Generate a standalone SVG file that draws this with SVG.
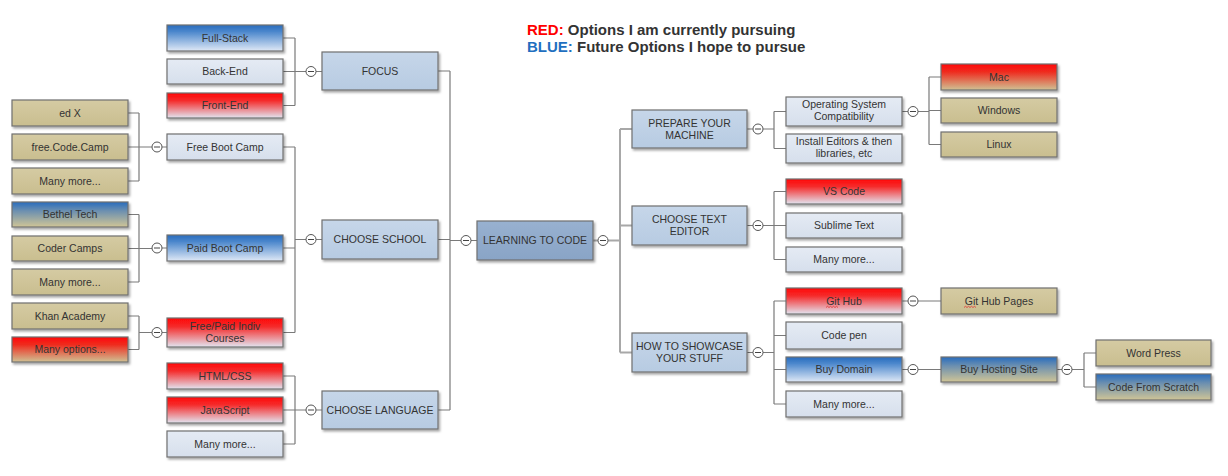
<svg xmlns="http://www.w3.org/2000/svg" width="1228" height="476" viewBox="0 0 1228 476">
<style>
.n rect{stroke:#707070;stroke-width:1.2;filter:url(#sh)}
.n text{font-family:"Liberation Sans",Arial,sans-serif;font-size:10.5px;fill:#333;text-anchor:middle}
.light rect{fill:url(#gLight)}
.l1 rect{fill:url(#gL1)}
.ctr rect{fill:url(#gCtr)}
.tan rect{fill:url(#gTan)}
.red rect{fill:url(#gRed)}
.redtan rect{fill:url(#gRedTan)}
.blue rect{fill:url(#gBlue)}
.bluetan rect{fill:url(#gBlueTan)}
#connectors path{fill:none;stroke:#7a7a7a;stroke-width:1.2}
#connectors path.trunk{stroke:#a8a8a8;stroke-width:2}
#connectors circle{fill:#fff;stroke:#555;stroke-width:1}
#connectors line{stroke:#444;stroke-width:1}
.legend{font-family:"Liberation Sans",Arial,sans-serif;font-size:15px;font-weight:bold;fill:#333}
.sq{fill:none;stroke:#e03030;stroke-width:0.8}
</style>
<defs>
<filter id="sh" x="-10%" y="-20%" width="130%" height="160%">
<feDropShadow dx="1.5" dy="2" stdDeviation="1.2" flood-color="#000" flood-opacity="0.35"/>
</filter>
<linearGradient id="gLight" x1="0" y1="0" x2="0" y2="1"><stop offset="0" stop-color="#e5ebf4"/><stop offset="1" stop-color="#d6dfec"/></linearGradient>
<linearGradient id="gL1" x1="0" y1="0" x2="0" y2="1"><stop offset="0" stop-color="#c6d6e9"/><stop offset="1" stop-color="#b7cbe2"/></linearGradient>
<linearGradient id="gCtr" x1="0" y1="0" x2="0" y2="1"><stop offset="0" stop-color="#98b1d0"/><stop offset="1" stop-color="#89a4c6"/></linearGradient>
<linearGradient id="gTan" x1="0" y1="0" x2="0" y2="1"><stop offset="0" stop-color="#d5cba3"/><stop offset="1" stop-color="#c9be8f"/></linearGradient>
<linearGradient id="gRed" x1="0" y1="0" x2="0" y2="1"><stop offset="0" stop-color="#ff0808"/><stop offset="0.3" stop-color="#f52a2a"/><stop offset="1" stop-color="#e2e5f1"/></linearGradient>
<linearGradient id="gRedTan" x1="0" y1="0" x2="0" y2="1"><stop offset="0" stop-color="#ff0808"/><stop offset="0.3" stop-color="#ef2a1e"/><stop offset="1" stop-color="#cfc294"/></linearGradient>
<linearGradient id="gBlue" x1="0" y1="0" x2="0" y2="1"><stop offset="0" stop-color="#286cbd"/><stop offset="0.25" stop-color="#4a86cc"/><stop offset="1" stop-color="#e0e9f6"/></linearGradient>
<linearGradient id="gBlueTan" x1="0" y1="0" x2="0" y2="1"><stop offset="0" stop-color="#286cbd"/><stop offset="0.35" stop-color="#6b8fb0"/><stop offset="1" stop-color="#d0c596"/></linearGradient>
</defs>
<rect width="1228" height="476" fill="#fff"/>

<g id="legend">
<text class="legend" x="527" y="35"><tspan fill="#ff0000">RED:</tspan> Options I am currently pursuing</text>
<text class="legend" x="527" y="52"><tspan fill="#1f6fc0">BLUE:</tspan> Future Options I hope to pursue</text>
</g>

<g id="connectors">
<path d="M283,38H295M283,71.5H306M283,105.5H295M295,38V105.5M316,71.5H322"/>
<path d="M128,113H139M128,147H152M128,181H139M139,113V181M162,147H167"/>
<path d="M128,214.5H139M128,248.5H152M128,282H139M139,214.5V282M162,248H167"/>
<path d="M128,316H139M128,349.5H139M139,316V349.5M139,332.5H152M162,332.5H167"/>
<path d="M283,147H295M283,248H295M283,332.5H295M295,147V332.5M295,239.5H306M316,239.5H322"/>
<path d="M283,376H295M283,410H306M283,444H295M295,376V444M316,410H322"/>
<path d="M438,71H450M438,239.5H450M438,410H450M450,71V410M450,240.5H461M471,240.5H477"/>
<path class="trunk" d="M593,240.5H598M608,240.5H620M620,129V352.5M620,129H632M620,225.5H632M620,352.5H632"/>
<path d="M747,129H753M763,129H774M774,111.5V148.5M774,111.5H786M774,148.5H786"/>
<path d="M902,111.5H908M918,111.5H929M929,77V144.5M929,77H941M929,110.5H941M929,144.5H941"/>
<path d="M747,225.5H753M763,225.5H774M774,191.5V259.5M774,191.5H786M774,225.5H786M774,259.5H786"/>
<path d="M747,352.5H753M763,352.5H774M774,301V404M774,301H786M774,335.5H786M774,369.5H786M774,404H786"/>
<path d="M902,301H908M918,301H941M902,369.5H908M918,369.5H941"/>
<path d="M1057,369.5H1062M1072,369.5H1084M1084,353V387M1084,353H1096M1084,387H1096"/>
<circle cx="311" cy="71.5" r="5"/><line x1="308" y1="71.5" x2="314" y2="71.5"/>
<circle cx="157" cy="147" r="5"/><line x1="154" y1="147" x2="160" y2="147"/>
<circle cx="157" cy="248" r="5"/><line x1="154" y1="248" x2="160" y2="248"/>
<circle cx="157" cy="332.5" r="5"/><line x1="154" y1="332.5" x2="160" y2="332.5"/>
<circle cx="311" cy="239.5" r="5"/><line x1="308" y1="239.5" x2="314" y2="239.5"/>
<circle cx="311" cy="410" r="5"/><line x1="308" y1="410" x2="314" y2="410"/>
<circle cx="466" cy="240.5" r="5"/><line x1="463" y1="240.5" x2="469" y2="240.5"/>
<circle cx="603" cy="240.5" r="5"/><line x1="600" y1="240.5" x2="606" y2="240.5"/>
<circle cx="758" cy="129" r="5"/><line x1="755" y1="129" x2="761" y2="129"/>
<circle cx="913" cy="111.5" r="5"/><line x1="910" y1="111.5" x2="916" y2="111.5"/>
<circle cx="758" cy="225.5" r="5"/><line x1="755" y1="225.5" x2="761" y2="225.5"/>
<circle cx="758" cy="352.5" r="5"/><line x1="755" y1="352.5" x2="761" y2="352.5"/>
<circle cx="913" cy="301" r="5"/><line x1="910" y1="301" x2="916" y2="301"/>
<circle cx="913" cy="369.5" r="5"/><line x1="910" y1="369.5" x2="916" y2="369.5"/>
<circle cx="1067" cy="369.5" r="5"/><line x1="1064" y1="369.5" x2="1070" y2="369.5"/>
</g>

<g id="fullstack" class="n blue"><rect x="167" y="25" width="116" height="26"/><text x="225" y="41.8">Full-Stack</text></g>
<g id="backend" class="n light"><rect x="167" y="59" width="116" height="25"/><text x="225" y="75.3">Back-End</text></g>
<g id="frontend" class="n red"><rect x="167" y="93" width="116" height="25"/><text x="225" y="109.3">Front-End</text></g>
<g id="focus" class="n l1"><rect x="322" y="52" width="116" height="38"/><text x="380" y="75.3">FOCUS</text></g>

<g id="edx" class="n tan"><rect x="12" y="100" width="116" height="26"/><text x="70" y="116.8">ed X</text></g>
<g id="freecodecamp" class="n tan"><rect x="12" y="134" width="116" height="26"/><text x="70" y="150.8">free.Code.Camp</text></g>
<g id="manymore1" class="n tan"><rect x="12" y="168" width="116" height="26"/><text x="70" y="184.8">Many more...</text></g>
<g id="freebootcamp" class="n light"><rect x="167" y="134" width="116" height="26"/><text x="225" y="150.8">Free Boot Camp</text></g>

<g id="betheltech" class="n bluetan"><rect x="12" y="202" width="116" height="25"/><text x="70" y="218.3">Bethel Tech</text></g>
<g id="codercamps" class="n tan"><rect x="12" y="236" width="116" height="25"/><text x="70" y="252.3">Coder Camps</text></g>
<g id="manymore2" class="n tan"><rect x="12" y="269" width="116" height="26"/><text x="70" y="285.8">Many more...</text></g>
<g id="paidbootcamp" class="n blue"><rect x="167" y="235" width="116" height="26"/><text x="225" y="251.8">Paid Boot Camp</text></g>

<g id="khanacademy" class="n tan"><rect x="12" y="303" width="116" height="26"/><text x="70" y="319.8">Khan Academy</text></g>
<g id="manyoptions" class="n redtan"><rect x="12" y="337" width="116" height="25"/><text x="70" y="353.3">Many options...</text></g>
<g id="freepaid" class="n red"><rect x="167" y="318" width="116" height="29"/><text x="225" y="330.3">Free/Paid Indiv</text><text x="225" y="342.3">Courses</text></g>
<g id="chooseschool" class="n l1"><rect x="322" y="220" width="116" height="39"/><text x="380" y="243.3">CHOOSE SCHOOL</text></g>

<g id="htmlcss" class="n red"><rect x="167" y="363" width="116" height="26"/><text x="225" y="379.8">HTML/CSS</text></g>
<g id="javascript" class="n red"><rect x="167" y="397" width="116" height="26"/><text x="225" y="413.8">JavaScript</text></g>
<g id="manymore3" class="n light"><rect x="167" y="431" width="116" height="26"/><text x="225" y="447.8">Many more...</text></g>
<g id="chooselanguage" class="n l1"><rect x="322" y="391" width="116" height="38"/><text x="380" y="413.8">CHOOSE LANGUAGE</text></g>

<g id="learning" class="n ctr"><rect x="477" y="221" width="116" height="39"/><text x="535" y="244.3">LEARNING TO CODE</text></g>

<g id="prepare" class="n l1"><rect x="632" y="110" width="115" height="38"/><text x="689.5" y="126.8">PREPARE YOUR</text><text x="689.5" y="138.8">MACHINE</text></g>
<g id="os" class="n light"><rect x="786" y="97" width="116" height="29"/><text x="844" y="107.8">Operating System</text><text x="844" y="119.8">Compatibility</text></g>
<g id="install" class="n light"><rect x="786" y="134" width="116" height="29"/><text x="844" y="144.8">Install Editors &amp; then</text><text x="844" y="156.8">libraries, etc</text></g>
<g id="mac" class="n redtan"><rect x="941" y="64" width="116" height="26"/><text x="999" y="80.8">Mac</text></g>
<g id="windows" class="n tan"><rect x="941" y="98" width="116" height="25"/><text x="999" y="114.3">Windows</text></g>
<g id="linux" class="n tan"><rect x="941" y="132" width="116" height="25"/><text x="999" y="148.3">Linux</text></g>

<g id="texteditor" class="n l1"><rect x="632" y="206" width="115" height="39"/><text x="689.5" y="223.3">CHOOSE TEXT</text><text x="689.5" y="235.3">EDITOR</text></g>
<g id="vscode" class="n red"><rect x="786" y="179" width="116" height="25"/><text x="844" y="195.3">VS Code</text></g>
<g id="sublime" class="n light"><rect x="786" y="213" width="116" height="25"/><text x="844" y="229.3">Sublime Text</text></g>
<g id="manymore4" class="n light"><rect x="786" y="247" width="116" height="25"/><text x="844" y="263.3">Many more...</text></g>

<g id="showcase" class="n l1"><rect x="632" y="333" width="115" height="39"/><text x="689.5" y="350.3">HOW TO SHOWCASE</text><text x="689.5" y="362.3">YOUR STUFF</text></g>
<g id="github" class="n red"><rect x="786" y="288" width="116" height="26"/><text x="844" y="304.8">Git Hub</text><path class="sq" d="M826,307.5l1.5,-1.2l1.5,1.2l1.5,-1.2l1.5,1.2l1.5,-1.2l1.5,1.2l1.5,-1.2l1.5,1.2"/></g>
<g id="codepen" class="n light"><rect x="786" y="322" width="116" height="27"/><text x="844" y="339.3">Code pen</text></g>
<g id="buydomain" class="n blue"><rect x="786" y="357" width="116" height="25"/><text x="844" y="373.3">Buy Domain</text></g>
<g id="manymore5" class="n light"><rect x="786" y="391" width="116" height="26"/><text x="844" y="407.8">Many more...</text></g>
<g id="githubpages" class="n tan"><rect x="941" y="288" width="116" height="26"/><text x="999" y="304.8">Git Hub Pages</text><path class="sq" d="M964,307.5l1.5,-1.2l1.5,1.2l1.5,-1.2l1.5,1.2l1.5,-1.2l1.5,1.2l1.5,-1.2l1.5,1.2"/></g>
<g id="buyhosting" class="n bluetan"><rect x="941" y="357" width="116" height="25"/><text x="999" y="373.3">Buy Hosting Site</text></g>
<g id="wordpress" class="n tan"><rect x="1096" y="340" width="115" height="26"/><text x="1153.5" y="356.8">Word Press</text></g>
<g id="codefromscratch" class="n bluetan"><rect x="1096" y="374" width="115" height="26"/><text x="1153.5" y="390.8">Code From Scratch</text></g>
</svg>
